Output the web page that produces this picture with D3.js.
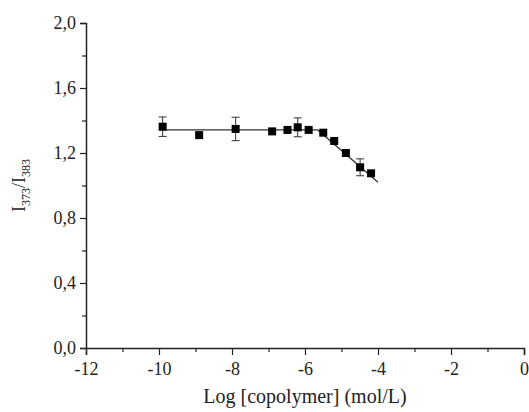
<!DOCTYPE html>
<html>
<head>
<meta charset="utf-8">
<script src="https://cdn.jsdelivr.net/npm/d3@7"></script>
<style>
  body { margin: 0; background: #fff; }
  text { font-family: "Liberation Serif", "Times New Roman", serif; fill: #222; }
</style>
</head>
<body>
<svg id="chart"></svg>
<script>
// I373/I383 ratio vs log copolymer concentration

const logConc = [-9.9, -8.9, -7.9, -6.9, -6.48, -6.2, -5.9, -5.5, -5.2, -4.88, -4.49, -4.19];
const ratio   = [1.362, 1.31, 1.348, 1.333, 1.342, 1.358, 1.342, 1.325, 1.274, 1.20, 1.112, 1.075];
const errBar  = [0.06, 0, 0.072, 0, 0, 0.058, 0, 0, 0, 0, 0.052, 0];

// fitted line (flat then linear drop)
const fitX = [-10, -5.65, -4];
const fitY = [1.342, 1.342, 1.02];

const xTicks = [-12, -10, -8, -6, -4, -2, 0];
const xMinor = [-11, -9, -7, -5, -3, -1];
const yTicks = [0, 0.4, 0.8, 1.2, 1.6, 2.0];
const yMinor = [0.2, 0.6, 1.0, 1.4, 1.8];

(function () {
  const W = 529, H = 412;
  const M = { top: 23, right: 5, bottom: 64, left: 86 };
  const innerW = W - M.left - M.right;
  const innerH = H - M.top - M.bottom;

  const svg = d3.select("#chart").attr("width", W).attr("height", H);
  const g = svg.append("g").attr("transform", `translate(${M.left},${M.top})`);

  const x = d3.scaleLinear().domain([-12, 0]).range([0, innerW]);
  const y = d3.scaleLinear().domain([0, 2]).range([innerH, 0]);
  const fmt = d => d3.format(".1f")(d).replace(".", ",");

  // ---- Axes ----
  g.append("g").attr("transform", `translate(0,${innerH})`)
    .call(d3.axisBottom(x).tickValues(xTicks).tickSize(7).tickPadding(7).tickFormat(d => String(d)));
  g.append("g").attr("transform", `translate(0,${innerH})`)
    .call(d3.axisBottom(x).tickValues(xMinor).tickSize(4).tickFormat(""))
    .select(".domain").remove();

  g.append("g")
    .call(d3.axisLeft(y).tickValues(yTicks).tickSize(6).tickPadding(4).tickFormat(fmt));
  g.append("g")
    .call(d3.axisLeft(y).tickValues(yMinor).tickSize(4).tickFormat(""))
    .select(".domain").remove();

  g.selectAll(".domain").attr("stroke", "#222").attr("stroke-width", 1.5);
  g.selectAll(".tick line").attr("stroke", "#222").attr("stroke-width", 1.2);
  g.selectAll(".tick text").attr("font-size", 18).attr("fill", "#222")
    .style("font-family", "'Liberation Serif', serif");

  // axis titles
  svg.append("text")
    .attr("x", M.left + innerW / 2).attr("y", 403)
    .attr("text-anchor", "middle").attr("font-size", 20)
    .text("Log [copolymer] (mol/L)");

  const yl = svg.append("text")
    .attr("transform", `translate(25,${M.top + innerH / 2}) rotate(-90)`)
    .attr("text-anchor", "middle").attr("font-size", 18);
  yl.append("tspan").text("I");
  yl.append("tspan").attr("font-size", 12).attr("dy", 5).text("373");
  yl.append("tspan").attr("dy", -5).text("/I");
  yl.append("tspan").attr("font-size", 12).attr("dy", 5).text("383");

  // ---- Fit line ----
  const fit = fitX.map((v, i) => [v, fitY[i]]);
  g.append("path").datum(fit)
    .attr("fill", "none").attr("stroke", "#333").attr("stroke-width", 1.2)
    .attr("d", d3.line().x(d => x(d[0])).y(d => y(d[1])));

  // ---- Error bars ----
  const data = logConc.map((v, i) => ({ x: v, y: ratio[i], e: errBar[i] }));
  const eb = g.append("g").attr("stroke", "#333").attr("stroke-width", 1);
  data.filter(d => d.e > 0).forEach(d => {
    eb.append("line")
      .attr("x1", x(d.x)).attr("x2", x(d.x))
      .attr("y1", y(d.y - d.e)).attr("y2", y(d.y + d.e));
    [d.y - d.e, d.y + d.e].forEach(v => {
      eb.append("line")
        .attr("x1", x(d.x) - 4).attr("x2", x(d.x) + 4)
        .attr("y1", y(v)).attr("y2", y(v));
    });
  });

  // ---- Markers ----
  g.append("g").selectAll("rect").data(data).join("rect")
    .attr("x", d => x(d.x) - 4).attr("y", d => y(d.y) - 4)
    .attr("width", 8).attr("height", 8)
    .attr("fill", "#000");
})();
</script>
</body>
</html>
